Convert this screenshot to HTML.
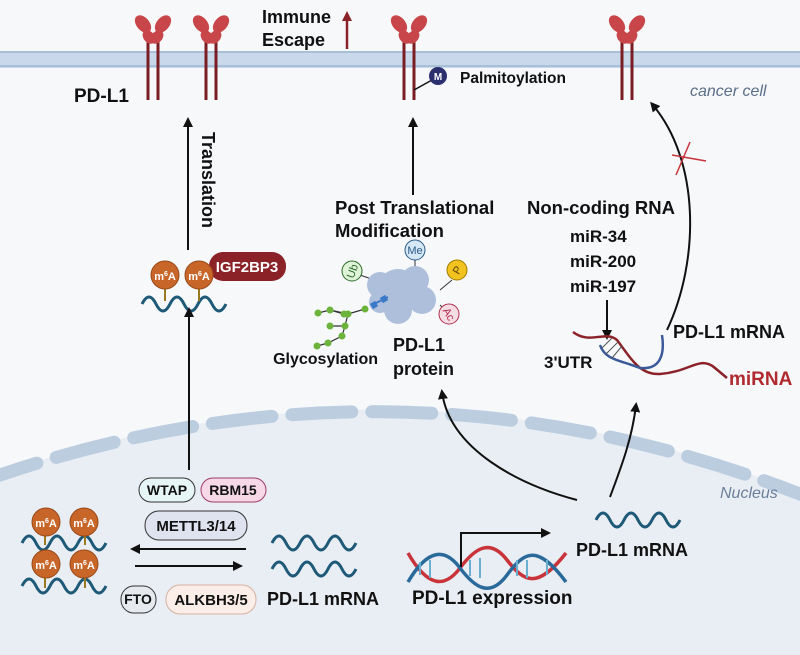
<!DOCTYPE html>
<html><head><meta charset="utf-8"><style>
html,body{margin:0;padding:0;background:#f6f8fa;}
svg{display:block;font-family:"Liberation Sans",sans-serif;}
.b{font-weight:bold;fill:#111;}
</style></head><body>
<svg width="800" height="655" viewBox="0 0 800 655" xmlns="http://www.w3.org/2000/svg">
<defs>
<marker id="ah" markerWidth="10" markerHeight="10" refX="7" refY="5" orient="auto" markerUnits="userSpaceOnUse"><path d="M0,0 L10,5 L0,10 z" fill="#111"/></marker>
<marker id="ahr" markerWidth="10" markerHeight="10" refX="7" refY="5" orient="auto" markerUnits="userSpaceOnUse"><path d="M0,0 L10,5 L0,10 z" fill="#8b2228"/></marker>
<g id="wave"><path d="M0,8 q7,-14 14,0 t14,0 t14,0 t14,0 t14,0 t14,0" fill="none" stroke="#1e5a78" stroke-width="3"/></g>
<g id="m6a"><circle r="14" fill="#c8662a" stroke="#9a4a18" stroke-width="1"/><text y="5" text-anchor="middle" font-size="11" font-weight="bold" fill="#fff">m<tspan font-size="7" dy="-4">6</tspan><tspan dy="4">A</tspan></text></g>
<g id="rec"><path d="M-5,100 V42 M5,100 V42" stroke="#7a1e24" stroke-width="3"/>
<ellipse cx="-10" cy="24" rx="6.5" ry="10" transform="rotate(-40 -10 24)" fill="#c8464a"/><ellipse cx="-4" cy="37" rx="5.5" ry="7.5" transform="rotate(-40 -4 37)" fill="#c8464a"/>
<ellipse cx="10" cy="24" rx="6.5" ry="10" transform="rotate(40 10 24)" fill="#c8464a"/><ellipse cx="4" cy="37" rx="5.5" ry="7.5" transform="rotate(40 4 37)" fill="#c8464a"/></g>
</defs>
<rect width="800" height="655" fill="#f6f8fa"/>
<!-- nucleus -->
<path d="M-20,480 Q400,330 820,500 L820,655 L-20,655 Z" fill="#e9eef4"/>
<path d="M-20,482 Q400,332 820,502" fill="none" stroke="#bccde0" stroke-width="13" stroke-linecap="round" stroke-dasharray="60,20"/>
<!-- membrane -->
<rect x="0" y="52" width="800" height="16" fill="#c9d8ea"/>
<line x1="0" y1="52" x2="800" y2="52" stroke="#a9bfd8" stroke-width="2"/>
<line x1="0" y1="66" x2="800" y2="66" stroke="#a9bfd8" stroke-width="2"/>
<use href="#rec" x="153" y="0"/><use href="#rec" x="211" y="0"/>
<use href="#rec" x="409" y="0"/><use href="#rec" x="627" y="0"/>
<text x="74" y="102" class="b" font-size="19">PD-L1</text>
<text x="262" y="23" class="b" font-size="18">Immune</text>
<text x="262" y="46" class="b" font-size="18">Escape</text>
<line x1="347" y1="49" x2="347" y2="14" stroke="#8b2228" stroke-width="2.5" marker-end="url(#ahr)"/>
<line x1="414" y1="90" x2="432" y2="80" stroke="#111" stroke-width="1.5"/>
<circle cx="438" cy="76" r="9" fill="#2c2f6e"/><text x="438" y="80" text-anchor="middle" font-size="10" fill="#fff" font-weight="bold">M</text>
<text x="460" y="83" class="b" font-size="15.5">Palmitoylation</text>
<text x="690" y="96" font-size="16" font-style="italic" fill="#5c6e8a">cancer cell</text>
<!-- translation -->
<line x1="188" y1="250" x2="188" y2="120" stroke="#111" stroke-width="2" marker-end="url(#ah)"/>
<text transform="translate(202,132) rotate(90)" class="b" font-size="18">Translation</text>
<use href="#wave" x="142" y="296"/>
<line x1="165" y1="289" x2="165" y2="301" stroke="#9a7a20" stroke-width="2"/><line x1="199" y1="289" x2="199" y2="301" stroke="#9a7a20" stroke-width="2"/>
<rect x="209" y="252" width="77" height="29" rx="14" fill="#8b2228"/>
<text x="247" y="272" text-anchor="middle" font-size="15" font-weight="bold" fill="#fff">IGF2BP3</text>
<use href="#m6a" x="165" y="275"/><use href="#m6a" x="199" y="275"/>
<line x1="189" y1="470" x2="189" y2="310" stroke="#111" stroke-width="2" marker-end="url(#ah)"/>
<!-- PTM -->
<line x1="413" y1="195" x2="413" y2="120" stroke="#111" stroke-width="2" marker-end="url(#ah)"/>
<text x="335" y="214" class="b" font-size="18.5">Post Translational</text>
<text x="335" y="237" class="b" font-size="18.5">Modification</text>
<line x1="415" y1="258" x2="415" y2="272" stroke="#333"/><line x1="360" y1="275" x2="380" y2="282" stroke="#333"/>
<line x1="452" y1="280" x2="440" y2="290" stroke="#333"/><line x1="440" y1="305" x2="445" y2="310" stroke="#333"/>
<g fill="#aebfdc">
<circle cx="398" cy="290" r="21"/><circle cx="380" cy="285" r="13"/><circle cx="415" cy="280" r="14"/><circle cx="422" cy="300" r="14"/><circle cx="398" cy="310" r="14"/><circle cx="380" cy="302" r="11"/>
</g>
<line x1="372" y1="305" x2="388" y2="297" stroke="#3a78c8" stroke-width="2"/>
<rect x="371" y="302" width="6" height="6" fill="#3a78c8" transform="rotate(-30 374 305)"/><rect x="381" y="296" width="6" height="6" fill="#3a78c8" transform="rotate(-30 384 299)"/>
<path d="M318,313 L330,310 L348,314 L365,309 M348,314 L345,326 L342,336 L328,343 L317,346 M330,310 L344,314 M345,326 L330,326" fill="none" stroke="#333" stroke-width="1.2"/>
<g fill="#6cb33c"><circle cx="318" cy="313" r="3.5"/><circle cx="330" cy="310" r="3.5"/><circle cx="348" cy="314" r="3.5"/><circle cx="365" cy="309" r="3.5"/><circle cx="345" cy="326" r="3.5"/><circle cx="342" cy="336" r="3.5"/><circle cx="328" cy="343" r="3.5"/><circle cx="317" cy="346" r="3.5"/><circle cx="344" cy="314" r="3.5"/><circle cx="330" cy="326" r="3.5"/></g>
<circle cx="415" cy="250" r="10" fill="#d6e8f6" stroke="#2a5a88"/><text x="415" y="254" text-anchor="middle" font-size="11" fill="#2a5a88">Me</text>
<circle cx="352" cy="271" r="10" fill="#dff3d6" stroke="#2a6a2a"/><text x="352" y="275" text-anchor="middle" font-size="11" fill="#2a6a2a" transform="rotate(-70 352 271)">Ub</text>
<circle cx="457" cy="270" r="10" fill="#f2c21e" stroke="#a07a00"/><text x="457" y="274" text-anchor="middle" font-size="11" fill="#5a4000" transform="rotate(-60 457 270)">P</text>
<circle cx="449" cy="314" r="10" fill="#f6dde4" stroke="#b03050"/><text x="449" y="318" text-anchor="middle" font-size="11" fill="#b03050" transform="rotate(60 449 314)">Ac</text>
<text x="378" y="364" text-anchor="end" class="b" font-size="16">Glycosylation</text>
<text x="393" y="351" class="b" font-size="18">PD-L1</text>
<text x="393" y="375" class="b" font-size="18">protein</text>
<!-- ncRNA -->
<text x="527" y="214" class="b" font-size="18.5">Non-coding RNA</text>
<text x="570" y="242" class="b" font-size="17">miR-34</text>
<text x="570" y="267" class="b" font-size="17">miR-200</text>
<text x="570" y="292" class="b" font-size="17">miR-197</text>
<line x1="607" y1="300" x2="607" y2="337" stroke="#111" stroke-width="2" marker-end="url(#ah)"/>
<path d="M573,332 C590,345 605,330 617,340 C632,360 640,375 660,374 C690,372 700,355 715,368 L727,378" fill="none" stroke="#8b2228" stroke-width="2.5"/>
<path d="M600,345 C605,360 620,360 640,368 C660,370 665,355 662,335" fill="none" stroke="#3a5a9a" stroke-width="2.5"/>
<path d="M602,348 L612,338 M606,354 L618,342 M612,358 L622,346" stroke="#555" stroke-width="1"/>
<text x="544" y="368" class="b" font-size="17">3'UTR</text>
<text x="673" y="338" class="b" font-size="18">PD-L1 mRNA</text>
<text x="729" y="385" font-size="19" font-weight="bold" fill="#b02a30">miRNA</text>
<path d="M667,330 C700,260 700,160 652,104" fill="none" stroke="#111" stroke-width="2" marker-end="url(#ah)"/>
<path d="M672,155 L706,161 M690,142 L676,175" stroke="#c8343a" stroke-width="1.5"/>
<!-- nucleus contents -->
<text x="720" y="498" font-size="16" font-style="italic" fill="#6a7e9a">Nucleus</text>
<rect x="139" y="478" width="56" height="24" rx="12" fill="#e6f5f6" stroke="#333"/><text x="167" y="495" text-anchor="middle" class="b" font-size="14">WTAP</text>
<rect x="201" y="478" width="65" height="24" rx="12" fill="#f6d8e6" stroke="#a03a6a"/><text x="233" y="495" text-anchor="middle" class="b" font-size="14">RBM15</text>
<rect x="145" y="511" width="102" height="29" rx="14" fill="#dfe2ef" stroke="#333"/><text x="196" y="531" text-anchor="middle" class="b" font-size="15">METTL3/14</text>
<line x1="246" y1="549" x2="133" y2="549" stroke="#111" stroke-width="2" marker-end="url(#ah)"/>
<line x1="135" y1="566" x2="240" y2="566" stroke="#111" stroke-width="2" marker-end="url(#ah)"/>
<rect x="121" y="586" width="35" height="27" rx="13" fill="#e6eaef" stroke="#333"/><text x="138" y="604" text-anchor="middle" class="b" font-size="14">FTO</text>
<rect x="166" y="585" width="90" height="29" rx="14" fill="#fbeee8" stroke="#d8b0a0"/><text x="211" y="605" text-anchor="middle" class="b" font-size="15">ALKBH3/5</text>
<use href="#wave" x="22" y="535"/><use href="#wave" x="22" y="578"/>
<line x1="45" y1="535" x2="45" y2="545" stroke="#9a7a20" stroke-width="2"/><line x1="85" y1="535" x2="85" y2="545" stroke="#9a7a20" stroke-width="2"/>
<line x1="45" y1="577" x2="45" y2="588" stroke="#9a7a20" stroke-width="2"/><line x1="85" y1="577" x2="85" y2="588" stroke="#9a7a20" stroke-width="2"/>
<use href="#m6a" x="46" y="522"/><use href="#m6a" x="84" y="522"/><use href="#m6a" x="46" y="564"/><use href="#m6a" x="84" y="564"/>
<use href="#wave" x="272" y="535"/><use href="#wave" x="272" y="561"/>
<text x="267" y="605" class="b" font-size="18">PD-L1 mRNA</text>
<!-- DNA -->
<path d="M408,553 C428,588 445,588 460,568 S490,538 507,560 S537,590 566,553" fill="none" stroke="#c8343a" stroke-width="3.5"/>
<path d="M408,582 C428,548 445,548 460,568 S490,598 507,575 S537,543 566,582" fill="none" stroke="#2a6a9a" stroke-width="3.5"/>
<g stroke="#6aaed0" stroke-width="2"><line x1="420" y1="562" x2="420" y2="575"/><line x1="430" y1="560" x2="430" y2="578"/><line x1="470" y1="560" x2="470" y2="576"/><line x1="480" y1="558" x2="480" y2="578"/><line x1="517" y1="560" x2="517" y2="576"/><line x1="527" y1="560" x2="527" y2="578"/><line x1="547" y1="560" x2="547" y2="575"/></g>
<path d="M461,567 V533 H548" fill="none" stroke="#111" stroke-width="2" marker-end="url(#ah)"/>
<text x="412" y="604" class="b" font-size="19">PD-L1 expression</text>
<use href="#wave" x="596" y="512"/>
<text x="576" y="556" class="b" font-size="18">PD-L1 mRNA</text>
<path d="M577,500 C520,485 450,450 442,392" fill="none" stroke="#111" stroke-width="2" marker-end="url(#ah)"/>
<path d="M610,497 C620,470 632,440 636,405" fill="none" stroke="#111" stroke-width="2" marker-end="url(#ah)"/>
</svg>
</body></html>
